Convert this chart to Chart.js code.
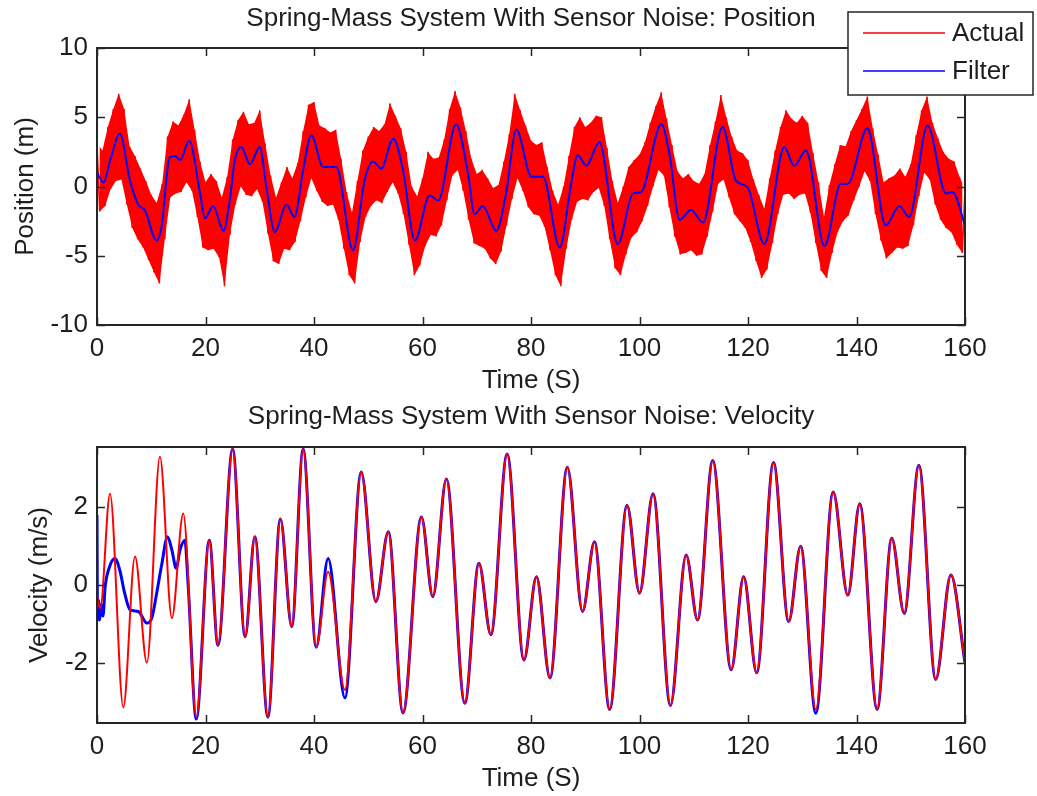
<!DOCTYPE html>
<html>
<head>
<meta charset="utf-8">
<title>Spring-Mass System With Sensor Noise</title>
<script src="https://cdn.jsdelivr.net/npm/chart.js@4.4.1/dist/chart.umd.min.js"></script>
<style>
  body { margin: 0; background: #fff; }
  .plot { position: absolute; left: 0; width: 1037px; height: 398px; }
</style>
</head>
<body>
<div class="plot" style="top:0"><canvas id="posChart" width="1037" height="398"></canvas></div>
<div class="plot" style="top:398px"><canvas id="velChart" width="1037" height="398"></canvas></div>
<script>
// tick labels
const timeTicks = [0, 20, 40, 60, 80, 100, 120, 140, 160];
const posTicks = [-10, -5, 0, 5, 10];
const velTicks = [-2, 0, 2];

// position: noisy measurement, upper edge at whole seconds, lower edge half a second later
const posHigh = [3.1,2.6,4.3,5.6,6.7,5.6,2.9,2.2,1.3,0.4,
  -0.6,-1.2,0.2,3.6,4.7,4.4,5.2,6.3,4.1,1.8,
  0.3,0.9,0.4,-0.8,0.7,3.4,4.8,5.4,4.5,4.6,
  5.5,3.1,0.8,-0.8,0.3,1.4,0.6,1.7,4.0,5.9,
  6.1,4.4,4.2,3.9,4.1,2.0,-0.4,-1.9,0.4,2.6,
  3.6,4.3,4.0,4.5,6.0,5.1,4.2,2.5,0.0,-0.7,
  0.6,2.5,2.0,2.1,3.4,5.6,6.9,5.7,4.0,2.0,
  0.9,1.2,0.6,-0.1,0.1,1.8,3.8,6.7,5.5,4.4,
  3.3,3.0,3.2,1.4,-0.3,-1.3,0.0,2.2,4.3,5.0,
  4.3,4.6,5.1,5.0,2.8,0.4,-1.2,0.0,1.4,1.9,
  2.3,3.2,4.6,5.8,6.8,4.9,3.0,1.1,0.6,0.9,
  0.4,0.2,0.9,3.0,4.7,6.6,5.0,3.6,2.6,2.4,
  1.9,0.5,-0.6,-1.6,0.6,2.6,4.3,5.5,4.9,4.6,
  5.1,4.6,2.4,0.3,-2.2,0.1,1.6,3.0,2.9,4.0,
  4.8,5.6,6.5,4.2,2.3,0.3,0.6,0.8,1.3,0.7,
  1.6,3.7,5.5,6.5,4.6,3.5,2.5,2.0,1.8,0.7,
  -0.2];
const posLow = [-1.8,-1.4,-0.2,0.4,0.5,-1.3,-3.0,-3.8,-4.4,-5.3,
  -6.2,-7.0,-3.8,-0.8,-0.5,-0.4,0.3,-0.3,-2.2,-4.4,
  -4.6,-4.5,-5.1,-7.2,-3.5,-1.3,0.0,-0.6,-0.7,-0.2,
  -1.1,-3.4,-5.4,-5.6,-4.5,-4.6,-4.0,-2.5,-0.8,0.6,
  -0.3,-1.1,-1.4,-1.3,-2.4,-4.5,-6.4,-7.0,-4.0,-2.2,
  -1.4,-1.0,-1.2,-0.4,0.3,-0.5,-2.0,-4.2,-6.4,-5.7,
  -4.3,-3.5,-3.6,-2.8,-1.0,0.8,1.2,-0.3,-2.4,-4.1,
  -4.3,-4.5,-5.2,-5.6,-4.7,-2.8,-0.9,0.6,-0.3,-1.5,
  -2.0,-2.1,-2.9,-4.6,-6.4,-7.2,-4.5,-2.4,-1.1,-0.9,
  -1.0,-0.4,-0.1,-1.4,-3.8,-5.9,-6.4,-4.9,-3.7,-3.3,
  -2.5,-1.4,0.0,1.2,0.8,-1.5,-3.6,-4.9,-4.8,-4.6,
  -5.0,-4.9,-3.6,-1.8,0.2,0.5,-0.8,-2.0,-2.5,-3.0,
  -4.0,-5.4,-6.6,-6.0,-4.1,-2.0,-0.6,-0.5,-0.9,-0.6,
  -0.5,-1.9,-4.1,-6.1,-6.6,-4.8,-3.3,-2.5,-2.1,-1.0,
  0.0,1.1,0.4,-2.0,-3.9,-5.2,-4.8,-4.4,-4.5,-4.3,
  -2.8,-0.7,1.0,0.5,-1.3,-2.4,-3.0,-3.3,-4.2,-4.8];

// position: filter estimate
const posFilterT = [0,1.2,2.5,4.2,6.1,7.6,8.8,11.0,11.9,13.4,
  14.4,15.3,17.0,19.0,19.9,21.4,23.3,24.5,25.4,26.6,
  28.2,30.0,31.2,32.8,34.9,36.4,38.0,39.5,41.7,44.1,
  47.2,49.3,50.9,52.4,54.6,56.4,58.6,61.3,62.9,66.2,
  68.4,69.6,71.1,73.6,75.4,77.3,80.1,82.2,85.3,87.4,
  88.6,90.2,92.6,96.0,98.8,100.3,104.0,105.5,107.4,109.5,111.7,
  115.3,117.8,119.9,123.0,126.7,128.5,130.7,134.1,137.1,138.4,
  142.0,145.4,147.9,149.7,153.1,156.5,157.7,160];
const posFilterV = [1.0,0.3,2.0,3.8,0.4,-1.3,-1.7,-3.9,-2.9,2.1,
  2.2,1.9,3.3,-0.5,-2.3,-1.4,-3.2,-0.9,1.9,2.85,
  1.6,2.85,0.0,-3.3,-1.3,-2.2,1.2,3.7,1.4,1.4,
  -4.6,0.4,1.8,1.3,3.45,1.2,-3.9,-0.65,-1.0,4.5,
  0.9,-2.0,-1.4,-3.2,-0.5,4.1,0.7,0.7,-4.4,0.2,
  2.25,1.5,3.2,-4.15,-0.5,-0.4,4.5,2.4,-2.4,-1.7,-2.6,
  4.3,0.4,-0.05,-4.15,2.85,1.5,2.6,-4.3,0.2,0.2,
  4.2,-2.8,-1.4,-2.2,4.4,-0.5,-0.4,-2.8];

// velocity: measured (turning points)
const velT = [0,0.6,2.4,4.85,7.0,9.2,11.6,13.8,15.9,18.3,
  20.7,22.3,25.0,27.3,29.1,31.5,33.8,35.9,38.0,40.4,
  42.6,45.7,48.7,51.4,53.7,56.4,59.8,61.9,64.4,67.8,
  70.4,72.6,75.6,78.7,81.0,83.5,86.7,89.5,91.7,94.5,
  97.7,100.0,102.5,105.7,108.6,110.7,113.5,116.9,119.2,121.6,
  124.7,127.5,129.7,132.5,135.7,138.4,140.6,143.8,146.5,148.8,
  151.5,154.6,157.4,160];
const velActual = [-0.3,-0.6,2.35,-3.15,0.73,-2.0,3.3,-0.85,1.84,-3.4,
  1.15,-1.55,3.5,-1.33,1.24,-3.4,1.7,-1.07,3.5,-1.6,
  0.34,-2.7,2.91,-0.43,1.37,-3.29,1.75,-0.3,2.73,-3.04,
  0.56,-1.28,3.37,-1.93,0.21,-2.39,3.03,-0.68,1.11,-3.2,
  2.05,-0.21,2.35,-3.1,0.77,-0.9,3.2,-2.18,0.21,-2.26,
  3.15,-0.94,1.0,-3.2,2.39,-0.26,2.09,-3.2,1.2,-0.73,
  3.08,-2.43,0.26,-2.0];

// velocity: filter estimate
const velFilterT = [0,0.1,0.3,0.5,0.8,1.1,1.5,2.4,3.3,4.2,
  5.1,6.1,7.6,9.2,10.1,11.0,11.9,13.0,13.8,14.6,
  15.3,16.2,16.8,18.3,20.7,22.3,25.0,27.3,29.1,31.5,
  33.8,35.9,38.0,40.4,42.6,45.7,48.7,51.4,53.7,56.4,
  59.8,61.9,64.4,67.8,70.4,72.6,75.6,78.7,81.0,83.5,
  86.7,89.5,91.7,94.5,97.7,100.0,102.5,105.7,108.6,110.7,
  113.5,116.9,119.2,121.6,124.7,127.5,129.7,132.5,135.7,138.4,
  140.6,143.8,146.5,148.8,151.5,154.6,157.4,160];
const velFilterV = [1.8,-0.9,-0.4,-0.9,-0.5,-0.8,-0.05,0.5,0.68,0.38,
  -0.21,-0.64,-0.68,-0.98,-0.85,-0.21,0.5,1.24,0.9,0.43,
  0.9,1.15,0.0,-3.45,1.15,-1.55,3.5,-1.33,1.24,-3.4,
  1.7,-1.07,3.5,-1.6,0.68,-2.9,2.91,-0.43,1.37,-3.29,
  1.75,-0.3,2.73,-3.04,0.56,-1.28,3.37,-1.93,0.21,-2.39,
  3.03,-0.68,1.11,-3.2,2.05,-0.21,2.35,-3.1,0.77,-0.9,
  3.2,-2.18,0.21,-2.26,3.15,-0.94,1.0,-3.3,2.39,-0.26,
  2.09,-3.2,1.2,-0.73,3.08,-2.43,0.26,-2.0];

const FONT = "'Liberation Sans', Arial, Helvetica, sans-serif";
const INK = '#1e1e1e';
const RED = '#ff0000';
const BLUE = '#0000ff';
Chart.defaults.font.family = FONT;
Chart.defaults.font.size = 26;
Chart.defaults.color = INK;

const pairs = (xs, ys) => xs.map((x, i) => ({ x: x, y: ys[i] }));

// interleave the two edges of the noise band
const posActual = [];
posHigh.forEach((v, i) => {
  posActual.push({ x: i, y: v });
  if (i < posLow.length) posActual.push({ x: i + 0.5, y: posLow[i] });
});

// box round the plot with inward tick marks, like MATLAB axes
const axesBox = {
  id: 'axesBox',
  afterDraw(chart) {
    const { ctx, chartArea: a, scales } = chart;
    const len = 8;
    ctx.save();
    ctx.strokeStyle = '#262626';
    ctx.lineWidth = 1.5;
    ctx.beginPath();
    scales.x.ticks.forEach(t => {
      const px = Math.round(scales.x.getPixelForValue(t.value)) + 0.5;
      ctx.moveTo(px, a.bottom); ctx.lineTo(px, a.bottom - len);
      ctx.moveTo(px, a.top); ctx.lineTo(px, a.top + len);
    });
    scales.y.ticks.forEach(t => {
      const py = Math.round(scales.y.getPixelForValue(t.value)) + 0.5;
      ctx.moveTo(a.left, py); ctx.lineTo(a.left + len, py);
      ctx.moveTo(a.right, py); ctx.lineTo(a.right - len, py);
    });
    ctx.stroke();
    ctx.lineWidth = 2;
    ctx.strokeRect(a.left, a.top, a.right - a.left, a.bottom - a.top);
    ctx.restore();
  }
};

// title centred over the plot box rather than the canvas
const plotTitle = {
  id: 'plotTitle',
  afterDraw(chart, args, opts) {
    const { ctx, chartArea: a } = chart;
    ctx.save();
    ctx.font = '26px ' + FONT;
    ctx.fillStyle = INK;
    ctx.textAlign = 'center';
    ctx.textBaseline = 'middle';
    ctx.fillText(opts.text, (a.left + a.right) / 2, opts.y);
    ctx.restore();
  }
};

// legend box in the top right corner
const boxLegend = {
  id: 'boxLegend',
  afterDraw(chart) {
    const ctx = chart.ctx;
    const items = chart.data.datasets.filter(d => d.label);
    ctx.save();
    ctx.fillStyle = '#fff';
    ctx.fillRect(848, 12, 185, 83);
    ctx.strokeStyle = '#262626';
    ctx.lineWidth = 1.5;
    ctx.strokeRect(848, 12, 185, 83);
    ctx.font = '26px ' + FONT;
    ctx.textBaseline = 'middle';
    items.forEach((d, i) => {
      const y = 33 + i * 38;
      ctx.strokeStyle = d.borderColor;
      ctx.lineWidth = 1.5;
      ctx.beginPath(); ctx.moveTo(863, y); ctx.lineTo(945, y); ctx.stroke();
      ctx.fillStyle = INK;
      ctx.fillText(d.label, 952, y + 1);
    });
    ctx.restore();
  }
};

function makeScales(yMin, yMax, yTicks, yTitle, yTitlePad) {
  return {
    x: {
      type: 'linear', min: 0, max: 160,
      afterBuildTicks: s => { s.ticks = timeTicks.map(v => ({ value: v })); },
      afterFit: s => { s.height = 73; },
      grid: { display: false, drawTicks: false },
      border: { display: false },
      ticks: { padding: 8, maxRotation: 0, autoSkip: false },
      title: { display: true, text: 'Time (S)', padding: { top: 0, bottom: 2 } }
    },
    y: {
      type: 'linear', min: yMin, max: yMax,
      afterBuildTicks: s => { s.ticks = yTicks.map(v => ({ value: v })); },
      afterFit: s => { s.width = 97; },
      grid: { display: false, drawTicks: false },
      border: { display: false },
      ticks: { padding: 9, autoSkip: false },
      title: { display: true, text: yTitle, padding: { top: yTitlePad, bottom: 0 } }
    }
  };
}

function makeOptions(title, top, scales) {
  return {
    responsive: false,
    animation: false,
    devicePixelRatio: 1,
    layout: { padding: { left: 0, right: 72, top: top, bottom: 0 } },
    elements: { point: { radius: 0 } },
    plugins: {
      legend: { display: false },
      tooltip: { enabled: false },
      title: { display: false },
      plotTitle: { text: title, y: 19 }
    },
    scales: scales
  };
}

new Chart(document.getElementById('posChart'), {
  type: 'line',
  data: {
    datasets: [
      { label: 'Actual', data: posActual, borderColor: RED, borderWidth: 1.5,
        tension: 0, order: 1 },
      { label: 'Filter', data: pairs(posFilterT, posFilterV), borderColor: BLUE,
        borderWidth: 2, cubicInterpolationMode: 'monotone', order: 0 },
      // solid body of the noise band
      { label: '', data: posHigh.map((v, i) => ({ x: i, y: v })), borderWidth: 0,
        backgroundColor: RED, fill: '+1', tension: 0, order: 2 },
      { label: '', data: posLow.map((v, i) => ({ x: i + 0.5, y: v })), borderWidth: 0,
        tension: 0, order: 2 }
    ]
  },
  options: makeOptions('Spring-Mass System With Sensor Noise: Position', 48,
    makeScales(-10, 10, posTicks, 'Position (m)', 10)),
  plugins: [axesBox, plotTitle, boxLegend]
});

new Chart(document.getElementById('velChart'), {
  type: 'line',
  data: {
    datasets: [
      { label: 'Actual', data: pairs(velT, velActual), borderColor: RED, borderWidth: 2,
        cubicInterpolationMode: 'monotone', order: 0 },
      { label: 'Filter', data: pairs(velFilterT, velFilterV), borderColor: BLUE,
        borderWidth: 3, cubicInterpolationMode: 'monotone', order: 1 }
    ]
  },
  options: makeOptions('Spring-Mass System With Sensor Noise: Velocity', 49,
    makeScales(-3.55, 3.55, velTicks, 'Velocity (m/s)', 24)),
  plugins: [axesBox, plotTitle]
});
</script>
</body>
</html>
